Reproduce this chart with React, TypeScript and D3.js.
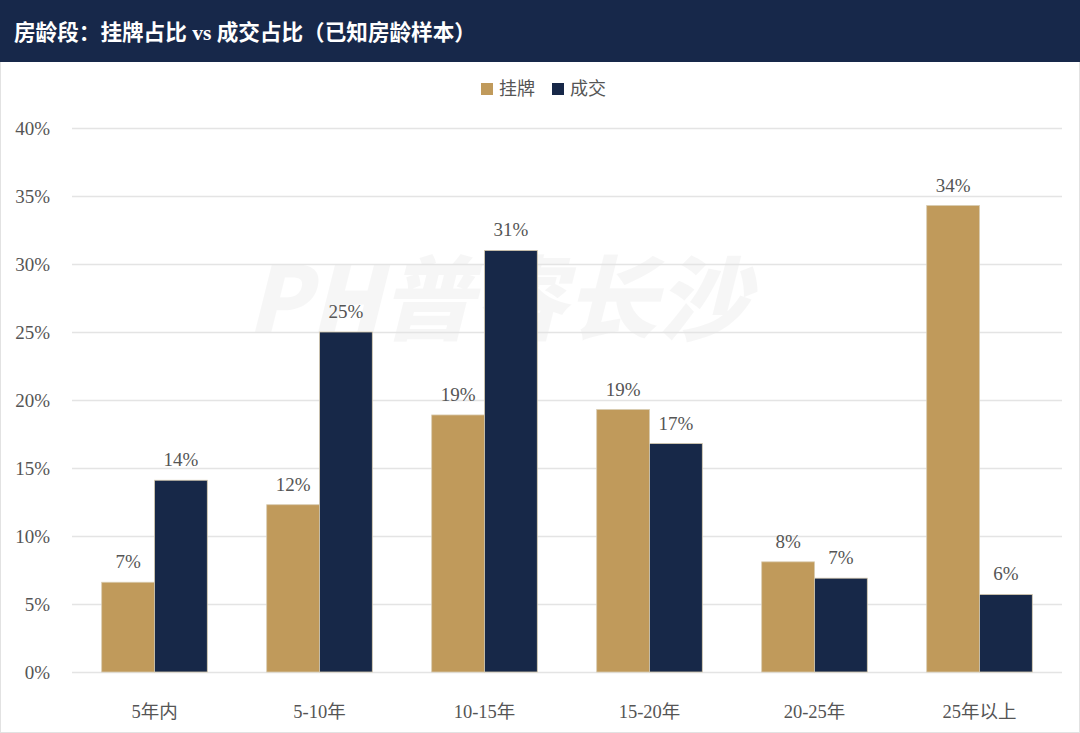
import * as d3 from "d3";
import { useEffect, useRef } from "react";

const width = 1080,
  height = 733,
  marginTop = 128,
  marginRight = 18,
  marginBottom = 61,
  marginLeft = 72;

const categories = ["5年内", "5-10年", "10-15年", "15-20年", "20-25年", "25年以上"];
const seriesNames = ["挂牌", "成交"];
const listed = [6.6, 12.3, 18.9, 19.3, 8.1, 34.3];
const deals = [14.1, 25.0, 31.0, 16.8, 6.9, 5.7];
const yTicks = [0, 5, 10, 15, 20, 25, 30, 35, 40];
const colors = ["#C09A5B", "#172848"];

const serif = "'Liberation Serif', 'DejaVu Serif', 'Noto Sans CJK SC', serif";

export default function App() {
  const ref = useRef<SVGSVGElement | null>(null);

  useEffect(() => {
    document.body.style.margin = "0";
    if (!ref.current) return;
    const svg = d3.select(ref.current);
    svg.selectAll("*").remove();

    const x = d3
      .scaleBand<string>()
      .domain(categories)
      .range([marginLeft, width - marginRight])
      .paddingInner(0.36)
      .paddingOuter(0.18);
    const xSub = d3
      .scaleBand<string>()
      .domain(seriesNames)
      .range([0, x.bandwidth()]);
    const y = d3.scaleLinear([0, 40], [height - marginBottom, marginTop]);

    // background + thin border
    svg
      .append("rect")
      .attr("x", 0.5)
      .attr("y", 0.5)
      .attr("width", width - 1)
      .attr("height", height - 1)
      .attr("fill", "#fff")
      .attr("stroke", "#e2e2e2");

    // title bar
    svg
      .append("rect")
      .attr("width", width)
      .attr("height", 62)
      .attr("fill", "#17284a");
    svg
      .append("text")
      .attr("x", 14)
      .attr("y", 40)
      .attr("fill", "#fff")
      .attr("font-family", serif)
      .attr("font-weight", "bold")
      .attr("font-size", 21.6)
      .text("房龄段：挂牌占比 vs 成交占比（已知房龄样本）");

    // watermark
    svg
      .append("text")
      .attr("x", 498)
      .attr("y", 333)
      .attr("text-anchor", "middle")
      .attr("font-family", "'Noto Sans CJK SC', sans-serif")
      .attr("font-weight", "900")
      .attr("font-style", "italic")
      .attr("font-size", 92)
      .attr("fill", "#000")
      .attr("fill-opacity", 0.035)
      .attr("aria-hidden", "true")
      .text("PH普睿长沙");

    // y grid + labels
    svg
      .append("g")
      .attr("transform", `translate(${marginLeft},0)`)
      .call(
        d3
          .axisLeft(y)
          .tickValues(yTicks)
          .tickSize(-(width - marginLeft - marginRight))
          .tickPadding(22)
          .tickFormat((d) => `${d}%`)
      )
      .call((g) => g.select(".domain").remove())
      .call((g) => g.selectAll(".tick line").attr("stroke", "#e4e4e4").attr("stroke-width", 1.5))
      .call((g) =>
        g
          .selectAll(".tick text")
          .attr("fill", "#555")
          .attr("font-family", serif)
          .attr("font-size", 19)
      );

    // bars
    const data = categories.map((c, i) => ({ c, vals: [listed[i], deals[i]] }));
    const groups = svg
      .append("g")
      .selectAll("g")
      .data(data)
      .join("g")
      .attr("transform", (d) => `translate(${x(d.c)},0)`);

    groups
      .selectAll("rect")
      .data((d) => d.vals.map((v, j) => ({ v, s: seriesNames[j], j })))
      .join("rect")
      .attr("x", (d) => xSub(d.s)!)
      .attr("y", (d) => y(d.v))
      .attr("width", xSub.bandwidth())
      .attr("height", (d) => y(0) - y(d.v))
      .attr("fill", (d) => colors[d.j])
      .attr("stroke", "#d8cbb0")
      .attr("stroke-width", 0.8);

    groups
      .selectAll("text")
      .data((d) => d.vals.map((v, j) => ({ v, s: seriesNames[j] })))
      .join("text")
      .attr("x", (d) => xSub(d.s)! + xSub.bandwidth() / 2)
      .attr("y", (d) => y(d.v) - 14)
      .attr("text-anchor", "middle")
      .attr("fill", "#555")
      .attr("font-family", serif)
      .attr("font-size", 19)
      .text((d) => `${Math.round(d.v)}%`);

    // x labels
    svg
      .append("g")
      .attr("transform", `translate(0,${height - marginBottom})`)
      .call(d3.axisBottom(x).tickSize(0).tickPadding(33))
      .call((g) => g.select(".domain").remove())
      .call((g) =>
        g
          .selectAll(".tick text")
          .attr("fill", "#555")
          .attr("font-family", serif)
          .attr("font-size", 18.5)
      );

    // legend
    const legend = svg.append("g");
    const legendX = [481, 552];
    seriesNames.forEach((name, i) => {
      legend
        .append("rect")
        .attr("x", legendX[i])
        .attr("y", 83)
        .attr("width", 12)
        .attr("height", 12)
        .attr("fill", colors[i]);
      legend
        .append("text")
        .attr("x", legendX[i] + 18)
        .attr("y", 95)
        .attr("fill", "#555")
        .attr("font-family", serif)
        .attr("font-size", 18)
        .text(name);
    });
  }, []);

  return <svg ref={ref} width={width} height={height} style={{ display: "block" }}></svg>;
}
